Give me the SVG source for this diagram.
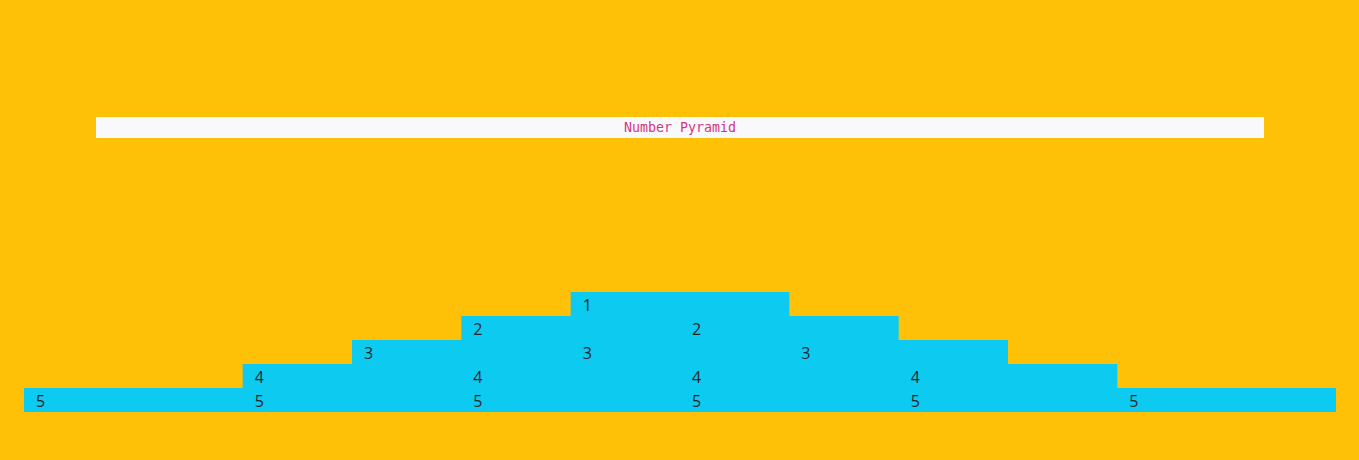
<svg xmlns="http://www.w3.org/2000/svg" width="1359" height="460" viewBox="0 0 1359 460">
<style>
.row{fill:#0dcaf0}
.num{font-family:"Open Sans","Liberation Sans",sans-serif;font-size:16px;fill:#212529}
.title{font-family:"DejaVu Sans Mono","Liberation Mono",monospace;font-size:13.33px;fill:#d63384}
</style>
<rect x="0" y="0" width="1359" height="460" fill="#ffc107"/>
<g id="title">
<rect x="96" y="117" width="1168" height="21" fill="#f8f9fa"/>
<text class="title" x="680" y="132" text-anchor="middle" textLength="112" lengthAdjust="spacingAndGlyphs">Number Pyramid</text>
</g>
<g id="row1">
<rect class="row" x="570.67" y="292" width="218.67" height="24"/>
<g id="c1-1"><text class="num" x="582.67" y="311">1</text></g>
</g>
<g id="row2">
<rect class="row" x="461.33" y="316" width="437.33" height="24"/>
<g id="c2-1"><text class="num" x="473.33" y="335">2</text></g>
<g id="c2-2"><text class="num" x="692" y="335">2</text></g>
</g>
<g id="row3">
<rect class="row" x="352" y="340" width="656" height="24"/>
<g id="c3-1"><text class="num" x="364" y="359">3</text></g>
<g id="c3-2"><text class="num" x="582.67" y="359">3</text></g>
<g id="c3-3"><text class="num" x="801.33" y="359">3</text></g>
</g>
<g id="row4">
<rect class="row" x="242.67" y="364" width="874.67" height="24"/>
<g id="c4-1"><text class="num" x="254.67" y="383">4</text></g>
<g id="c4-2"><text class="num" x="473.33" y="383">4</text></g>
<g id="c4-3"><text class="num" x="692" y="383">4</text></g>
<g id="c4-4"><text class="num" x="910.67" y="383">4</text></g>
</g>
<g id="row5">
<rect class="row" x="24" y="388" width="1312" height="24"/>
<g id="c5-1"><text class="num" x="36" y="407">5</text></g>
<g id="c5-2"><text class="num" x="254.67" y="407">5</text></g>
<g id="c5-3"><text class="num" x="473.33" y="407">5</text></g>
<g id="c5-4"><text class="num" x="692" y="407">5</text></g>
<g id="c5-5"><text class="num" x="910.67" y="407">5</text></g>
<g id="c5-6"><text class="num" x="1129.33" y="407">5</text></g>
</g>
<g id="connectors"/>
</svg>
